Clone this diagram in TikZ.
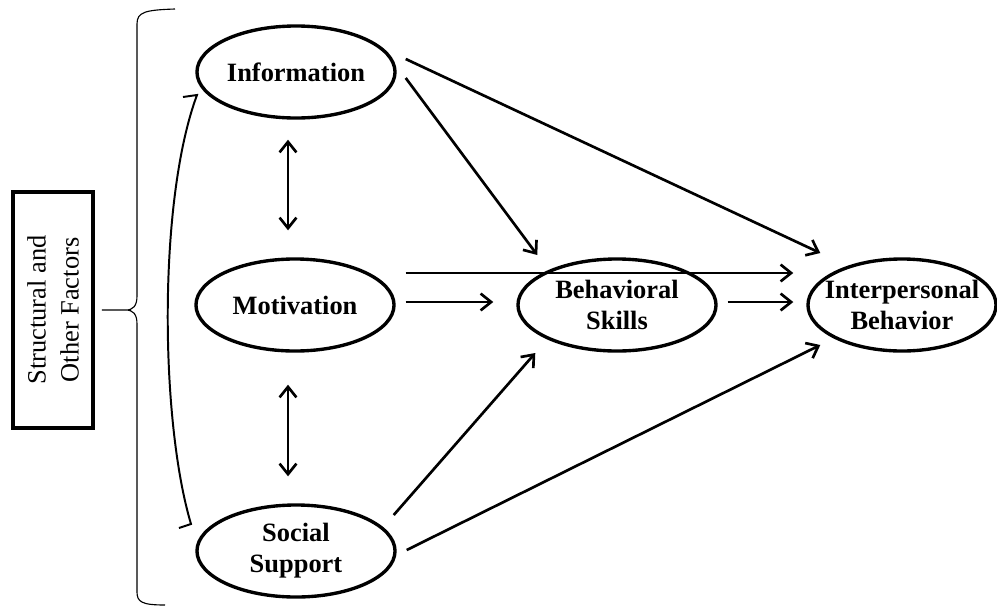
\documentclass[tikz,border=0pt]{standalone}
\usepackage{fontspec}
\setmainfont{Liberation Serif}
\usetikzlibrary{shapes.geometric, arrows.meta}

\begin{document}
\begin{tikzpicture}[
    % one unit = one pixel of the 997x606 layout
    x=0.025cm, y=-0.025cm,
    oval/.style={ellipse, draw, line width=2.4pt, align=center, font=\bfseries\fontsize{18.8}{22}\selectfont, minimum width=4.95cm, minimum height=2.3cm, inner xsep=-9pt, inner ysep=0pt},
    factor/.style={rectangle, draw, line width=2.6pt, align=center, rotate=90, font=\fontsize{18.8}{23.5}\selectfont, minimum width=5.9cm, minimum height=2cm},
    arrow/.style={-{Straight Barb[length=7.5pt, width=12pt]}, line width=1.9pt},
    dblarrow/.style={{Straight Barb[length=7.5pt, width=12pt]}-{Straight Barb[length=7.5pt, width=12pt]}, line width=1.9pt},
    harp/.style={line width=1.4pt, line join=miter},
    brace/.style={line width=0.8pt}
]
    \useasboundingbox (0,0) rectangle (997,606);

    \node[factor] (fac) at (53,310) {Structural and\\Other Factors};
    \node[oval] (info) at (296,72) {Information};
    \node[oval] (mot) at (295,305) {Motivation};
    \node[oval] (soc) at (296,551) {Social\\Support};
    \node[oval] (beh) at (617,305) {Behavioral\\Skills};
    \node[oval, minimum width=4.7cm] (inter) at (902,305) {Interpersonal\\Behavior};

    % brace from the factors box
    \draw[brace] ([shift={(7,0)}]fac.south) -- ++(24,0) coordinate (bj)
        .. controls (133,310) and (137,306) .. (137,296) -- (137,24)
        .. controls (137,12) and (145,10) .. (175,9)
        (bj) .. controls (133,310) and (137,314) .. (137,324) -- (137,592)
        .. controls (137,602) and (142,605) .. (165,605);

    % curved link down the left side, half barbs at both ends
    \coordinate (hb) at (191,524);
    \coordinate (ht) at (197,95);
    \draw[harp] ([shift={(-12,4)}]hb) -- (hb) .. controls (160,420) and (158,200) .. (ht) -- ++(-14,2);

    \draw[dblarrow] ([shift={(-8,20)}]info.south) -- ([shift={(-7,-27)}]mot.north);
    \draw[dblarrow] ([shift={(-7,32)}]mot.south) -- ([shift={(-8,-27)}]soc.north);

    \draw[arrow] ([shift={(9,6)}]info.east) -- ([shift={(21,-50)}]beh.west);
    \draw[arrow] ([shift={(9,-13)}]info.east) -- ([shift={(14,-52)}]inter.west);
    \draw[arrow] ([shift={(10,-32)}]mot.east) -- ([shift={(-13,-32)}]inter.west);
    \draw[arrow] ([shift={(10,-3)}]mot.east) -- ([shift={(-23,-3)}]beh.west);
    \draw[arrow] ([shift={(10,-3)}]beh.east) -- ([shift={(-13,-3)}]inter.west);
    \draw[arrow] ([shift={(-3,-36)}]soc.east) -- ([shift={(19,48)}]beh.west);
    \draw[arrow] ([shift={(10,-1)}]soc.east) -- ([shift={(14,40)}]inter.west);
\end{tikzpicture}
\end{document}
